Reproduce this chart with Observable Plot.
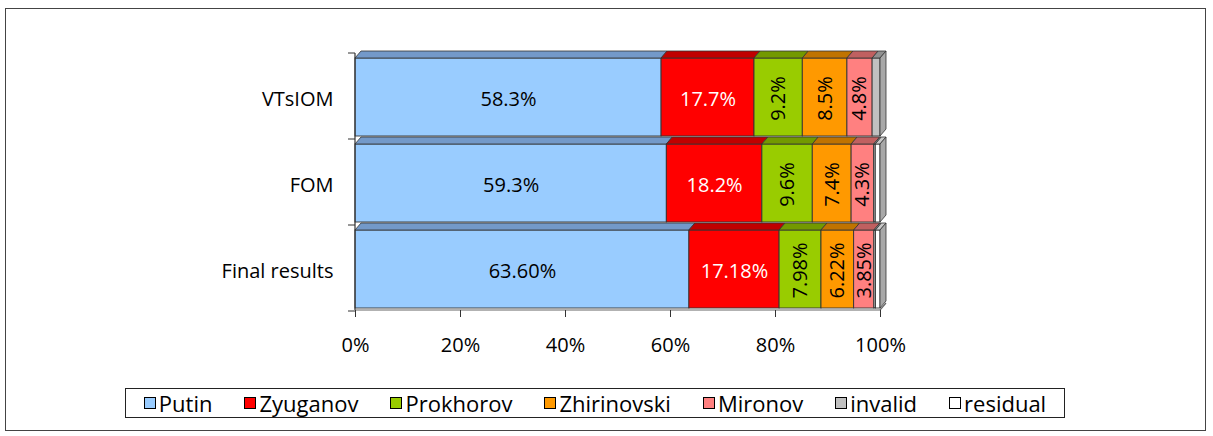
<!DOCTYPE html>
<html><head><meta charset="utf-8">
<script src="https://cdn.jsdelivr.net/npm/d3@7"></script>
<script src="https://cdn.jsdelivr.net/npm/@observablehq/plot@0.6"></script>
<style>
body{margin:0;background:#fff;font-family:"Open Sans",sans-serif;}
#wrap{position:relative;width:1213px;height:436px;overflow:hidden;background:#fff;}
#frame{position:absolute;left:5px;top:8px;width:1201px;height:423px;border:1px solid #444;box-sizing:border-box;}
#chart{position:absolute;left:0;top:0;}
#legend{position:absolute;left:125px;top:388px;width:940px;height:30px;border:1px solid #222;box-sizing:border-box;display:flex;align-items:center;justify-content:center;gap:32px;font-size:22px;line-height:26px;color:#000;}
#legend .it{display:flex;align-items:center;gap:3px;}
#legend .sw{width:12px;height:12px;border:1px solid #000;box-sizing:border-box;display:inline-block;}
</style></head>
<body>
<div id="wrap"><div id="frame"></div><div id="chart"></div><div id="legend"></div></div>
<script>
const categories = ["VTsIOM", "FOM", "Final results"];
const candidates = ["Putin", "Zyuganov", "Prokhorov", "Zhirinovski", "Mironov", "invalid", "residual"];
const putin = [58.3, 59.3, 63.60];
const zyuganov = [17.7, 18.2, 17.18];
const prokhorov = [9.2, 9.6, 7.98];
const zhirinovski = [8.5, 7.4, 6.22];
const mironov = [4.8, 4.3, 3.85];
const invalid = [1.5, 0.3, 0.3];
const residual = [0, 0.9, 0.87];
const labelDecimals = [1, 1, 2];
const xTicks = [0, 20, 40, 60, 80, 100];

const palette = ["#99CCFF", "#FF0000", "#99CC00", "#FF9900", "#FF8080", "#C0C0C0", "#FFFFFF"];
const topPalette = ["#7399C9", "#C00000", "#739900", "#C07300", "#C06060", "#909090", "#C8C8C8"];
const series = [putin, zyuganov, prokhorov, zhirinovski, mironov, invalid, residual];

const rows = [];
categories.forEach((cat, i) => {
  series.forEach((arr, j) => {
    rows.push({
      category: cat,
      candidate: candidates[j],
      value: arr[i],
      label: j < 5 ? arr[i].toFixed(labelDecimals[i]) + "%" : ""
    });
  });
});

const D = 6, H = 7;
function depth3D(index, scales) {
  const x = scales.x, y = scales.y;
  const bw = y.bandwidth ? y.bandwidth() : 86.67;
  const g = d3.create("svg:g");
  const pts = p => p.map(q => q.join(",")).join(" ");
  categories.forEach((cat, i) => {
    const top = y(cat);
    let cum = 0;
    series.forEach((arr, j) => {
      const v = arr[i];
      const x1 = x(cum), x2 = x(cum + v);
      cum += v;
      if (!v) return;
      g.append("polygon")
        .attr("points", pts([[x1, top + H], [x2, top + H], [x2 + D, top], [x1 + D, top]]))
        .attr("fill", topPalette[j]).attr("stroke", "#333").attr("stroke-width", 0.8);
    });
    const xr = x(cum);
    g.append("polygon")
      .attr("points", pts([[xr, top + H], [xr + D, top], [xr + D, top + bw - 1 - H], [xr, top + bw - 1]]))
      .attr("fill", "#A8A8A8").attr("stroke", "#333").attr("stroke-width", 0.8);
  });
  const yTop = y(categories[0]);
  const yBot = y(categories[categories.length - 1]) + bw;
  g.append("line").attr("x1", x(0)).attr("x2", x(0)).attr("y1", yTop + 2).attr("y2", yBot + 1)
    .attr("stroke", "#333").attr("stroke-width", 1.2);
  const bounds = categories.map(c => y(c)).concat([yBot]);
  bounds.forEach(b => {
    g.append("line").attr("x1", x(0) - 7).attr("x2", x(0)).attr("y1", b + 2).attr("y2", b + 2)
      .attr("stroke", "#333").attr("stroke-width", 1);
  });
  g.append("line").attr("x1", x(0)).attr("x2", x(100)).attr("y1", yBot + 1).attr("y2", yBot + 1)
    .attr("stroke", "#666").attr("stroke-width", 1.2);
  g.append("line").attr("x1", x(100)).attr("x2", x(100) + D).attr("y1", yBot + 1).attr("y2", yBot + 1 - H)
    .attr("stroke", "#666").attr("stroke-width", 1.2);
  return g.node();
}

const horiz = new Set(["Putin", "Zyuganov"]);
const chart = Plot.plot({
  width: 1213,
  height: 370,
  marginLeft: 355,
  marginRight: 333,
  marginTop: 50,
  marginBottom: 60,
  style: {fontFamily: "'Open Sans', sans-serif", fontSize: "20px", background: "transparent", color: "#000", overflow: "visible"},
  x: {domain: [0, 100], ticks: xTicks, tickFormat: d => d + "%"},
  y: {domain: categories, paddingInner: 0, paddingOuter: 0},
  color: {domain: candidates, range: palette},
  marks: [
    Plot.barX(rows, Plot.stackX({
      y: "category", x: "value", fill: "candidate",
      stroke: "#333", strokeWidth: 0.9, insetTop: H, insetBottom: 1
    })),
    depth3D,
    Plot.text(rows, Plot.stackX({
      y: "category", x: "value",
      text: d => horiz.has(d.candidate) ? d.label : "",
      fill: d => d.candidate === "Zyuganov" ? "#fff" : "#000",
      fontSize: 20, dy: 5
    })),
    Plot.text(rows, Plot.stackX({
      y: "category", x: "value",
      text: d => horiz.has(d.candidate) ? "" : d.label,
      rotate: -90, fill: "#000",
      fontSize: 20, dy: 4
    })),
    Plot.axisX({ticks: xTicks, tickFormat: d => d + "%", tickSize: 7, tickPadding: 20, fontSize: 20, label: null, stroke: "#333"}),
    Plot.axisY({tickSize: 0, tickPadding: 22, fontSize: 20, dy: 5, label: null})
  ]
});
document.getElementById("chart").appendChild(chart);

const legend = document.getElementById("legend");
candidates.forEach((c, j) => {
  const it = document.createElement("span");
  it.className = "it";
  const sw = document.createElement("span");
  sw.className = "sw";
  sw.style.background = palette[j];
  it.appendChild(sw);
  it.appendChild(document.createTextNode(c));
  legend.appendChild(it);
});
</script>
</body></html>
